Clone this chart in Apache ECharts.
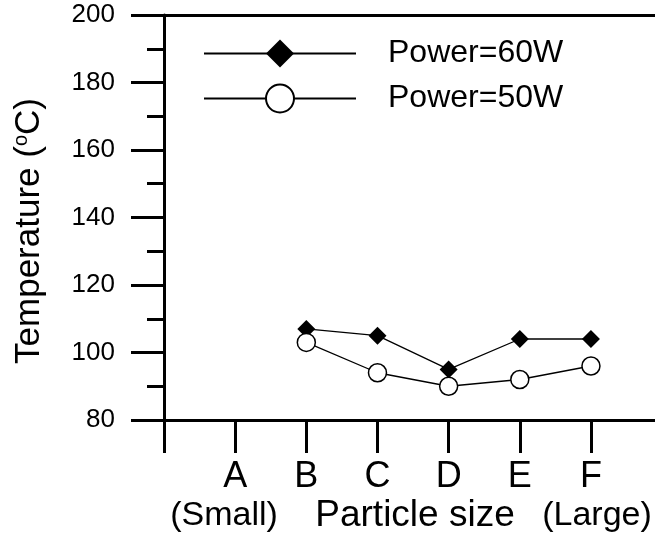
<!DOCTYPE html>
<html><head><meta charset="utf-8">
<script src="https://cdn.jsdelivr.net/npm/echarts@6/dist/echarts.min.js"></script>
<style>html,body{margin:0;padding:0;background:#fff}#c{width:655px;height:547px}</style>
</head><body><div id="c"></div>
<script>
const categories = ['A', 'B', 'C', 'D', 'E', 'F'];
const power60 = [null, 107, 105, 95, 104, 104];
const power50 = [null, 103, 94, 90, 92, 96];
const seriesNames = ['Power=60W', 'Power=50W'];
const xTickValues = [0, 1, 2, 3, 4, 5, 6];
const xLabelValues = [1, 2, 3, 4, 5, 6];

const FONT = "'Liberation Sans', Arial, Helvetica, sans-serif";
const toPoints = arr => arr.map((v, i) => [i + 1, v == null ? '-' : v]);

const chart = echarts.init(document.getElementById('c'), null, {renderer: 'canvas'});
chart.setOption({
  animation: false,
  backgroundColor: '#fff',
  textStyle: {fontFamily: FONT, color: '#000'},
  grid: {left: 164, right: 0, top: 15, bottom: 127, containLabel: false},
  legend: {
    orient: 'vertical', left: 203, top: 37.5, padding: 0, itemWidth: 152, itemHeight: 35, itemGap: 13,
    formatter: n => '{g|}' + n,
    textStyle: {fontSize: 32, fontFamily: FONT, color: '#000', rich: {g: {width: 27}}},
    data: seriesNames
  },
  xAxis: [{
    type: 'value', min: 0, max: 6.9, position: 'bottom',
    axisLine: {show: true, onZero: false, lineStyle: {color: '#000', width: 3}},
    axisTick: {show: true, length: 33, lineStyle: {color: '#000', width: 3}, customValues: xTickValues},
    axisLabel: {show: true, fontSize: 36, color: '#000', fontFamily: FONT, margin: 39,
      customValues: xLabelValues, formatter: v => categories[Math.round(v) - 1] || ''},
    splitLine: {show: false}
  }, {
    type: 'value', min: 0, max: 6.9, position: 'top',
    axisLine: {show: true, onZero: false, lineStyle: {color: '#000', width: 3}},
    axisTick: {show: false}, axisLabel: {show: false}, splitLine: {show: false}
  }],
  yAxis: {
    type: 'value', min: 80, max: 200, interval: 20,
    axisLine: {show: true, lineStyle: {color: '#000', width: 3}},
    axisTick: {show: true, length: 33, lineStyle: {color: '#000', width: 3}},
    minorTick: {show: true, splitNumber: 2, length: 17, lineStyle: {color: '#000', width: 3}},
    axisLabel: {fontSize: 26, color: '#000', fontFamily: FONT, margin: 49},
    splitLine: {show: false}
  },
  graphic: [
    {type: 'text', rotation: Math.PI / 2, x: 29, y: 231,
      style: {text: '{n|Temperature (}{s|o}{n|C)}', align: 'center', verticalAlign: 'middle',
        rich: {n: {fontSize: 35, fontFamily: FONT, fill: '#000'},
               s: {fontSize: 20, fontFamily: FONT, fill: '#000', verticalAlign: 'top'}}}},
    {type: 'text', x: 224, y: 516, style: {text: '(Small)', fontSize: 34, fontFamily: FONT, fill: '#000', align: 'center', verticalAlign: 'middle'}},
    {type: 'text', x: 415, y: 516, style: {text: 'Particle size', fontSize: 37, fontFamily: FONT, fill: '#000', align: 'center', verticalAlign: 'middle'}},
    {type: 'text', x: 597, y: 516, style: {text: '(Large)', fontSize: 34, fontFamily: FONT, fill: '#000', align: 'center', verticalAlign: 'middle'}}
  ],
  series: [{
    name: seriesNames[0], type: 'line', data: toPoints(power60),
    symbol: 'diamond', symbolSize: 18,
    lineStyle: {color: '#000', width: 1.3},
    itemStyle: {color: '#000', borderColor: '#000', borderWidth: 0}
  }, {
    name: seriesNames[1], type: 'line', data: toPoints(power50),
    symbol: 'circle', symbolSize: 18,
    lineStyle: {color: '#000', width: 1.3},
    itemStyle: {color: '#fff', borderColor: '#000', borderWidth: 1.5}
  }]
});
</script>
</body></html>
